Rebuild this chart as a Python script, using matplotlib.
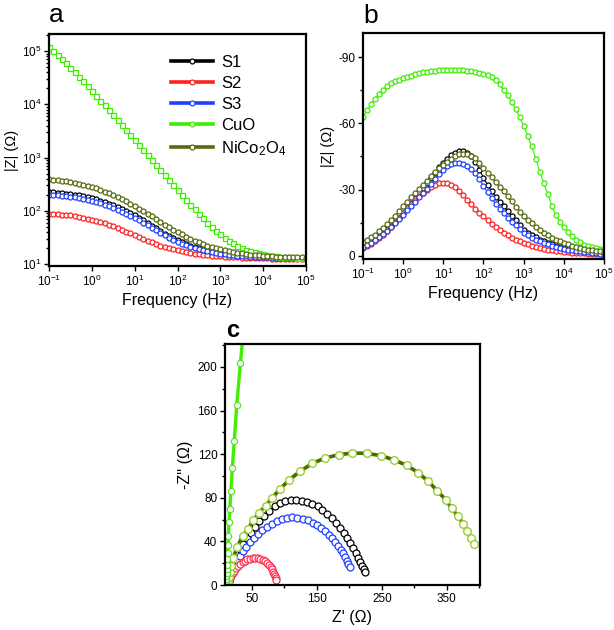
import numpy as np
import matplotlib
matplotlib.use('Agg')
import matplotlib.pyplot as plt
from matplotlib.lines import Line2D
from matplotlib.ticker import MultipleLocator, LogLocator, NullLocator

plt.rcParams['font.family'] = ['Liberation Sans', 'DejaVu Sans']
plt.rcParams['mathtext.fontset'] = 'custom'
plt.rcParams['mathtext.rm'] = 'Liberation Sans'
plt.rcParams['mathtext.it'] = 'Liberation Sans:italic'
plt.rcParams['mathtext.bf'] = 'Liberation Sans:bold'
plt.rcParams['axes.unicode_minus'] = False

# measurement grid, 10 points per decade
freq = np.logspace(-1, 5, 61)

labels = ['S1', 'S2', 'S3', 'CuO', 'NiCo$_2$O$_4$']
colors = ['#000000', '#ff2020', '#2040ff', '#3dee00', '#556b10']

# |Z| (ohm) vs frequency
zmod_s1 = [225.0, 222.5, 219.4, 215.8, 211.5, 206.6, 201.1, 195.0, 188.2, 180.9,
           172.9, 164.5, 155.7, 146.6, 137.2, 127.6, 118.1, 108.6, 99.4, 90.4,
           81.8, 73.6, 66.0, 59.0, 52.6, 46.9, 41.8, 37.4, 33.6, 30.4,
           27.8, 25.6, 23.7, 22.2, 20.8, 19.7, 18.7, 17.8, 17.1, 16.5,
           15.9, 15.5, 15.2, 14.8, 14.6, 14.3, 14.1, 13.9, 13.7, 13.6,
           13.5, 13.4, 13.3, 13.2, 13.1, 13.0, 13.0, 12.9, 12.9, 12.8, 12.8]
zmod_s2 = [88.1, 87.2, 86.1, 84.9, 83.4, 81.7, 79.6, 77.2, 74.6, 71.7,
           68.6, 65.2, 61.7, 58.2, 54.6, 51.0, 47.5, 44.1, 40.8, 37.7,
           34.8, 32.1, 29.6, 27.4, 25.5, 23.8, 22.3, 21.0, 19.9, 18.9,
           18.1, 17.4, 16.7, 16.2, 15.7, 15.3, 14.9, 14.6, 14.3, 14.1,
           13.9, 13.7, 13.6, 13.4, 13.3, 13.2, 13.1, 13.0, 12.9, 12.9,
           12.8, 12.8, 12.7, 12.7, 12.7, 12.6, 12.6, 12.6, 12.5, 12.5, 12.5]
zmod_s3 = [200.1, 197.9, 195.1, 191.9, 188.1, 183.7, 178.7, 173.2, 167.0, 160.3,
           153.2, 145.6, 137.7, 129.6, 121.3, 113.0, 104.7, 96.5, 88.5, 80.6,
           73.1, 65.9, 59.2, 53.2, 47.7, 42.8, 38.4, 34.6, 31.4, 28.6,
           26.2, 24.3, 22.6, 21.2, 20.0, 19.0, 18.1, 17.3, 16.7, 16.2,
           15.7, 15.3, 15.0, 14.7, 14.4, 14.2, 14.0, 13.8, 13.6, 13.5,
           13.4, 13.3, 13.2, 13.1, 13.1, 13.0, 12.9, 12.9, 12.9, 12.8, 12.8]
zmod_cuo = [1.203e5, 1.019e5, 85660, 71550, 59390, 49050, 40320, 33020, 26970, 21970,
            17870, 14510, 11760, 9520, 7694, 6216, 5016, 4043, 3256, 2623,
            2113, 1701, 1369, 1103, 887.8, 714.9, 575.9, 464.2, 374.2, 302.1,
            244.0, 197.4, 160.1, 130.2, 106.3, 87.3, 72.1, 60.0, 50.4, 42.6,
            36.4, 31.5, 27.5, 24.4, 22.0, 20.0, 18.5, 17.4, 16.5, 15.8,
            15.2, 14.7, 14.4, 14.1, 13.8, 13.6, 13.5, 13.3, 13.2, 13.1, 13.0]
zmod_nico = [390.1, 383.7, 376.2, 367.7, 358.1, 347.5, 335.8, 323.1, 309.4, 294.8,
             279.2, 263.0, 246.4, 229.8, 213.2, 196.9, 180.9, 165.4, 150.5, 136.3,
             122.9, 110.4, 98.9, 88.2, 78.5, 69.8, 62.1, 55.2, 49.3, 44.1,
             39.7, 36.0, 32.8, 30.0, 27.7, 25.6, 23.8, 22.3, 21.0, 19.9,
             19.0, 18.2, 17.5, 16.8, 16.3, 15.9, 15.5, 15.1, 14.8, 14.6,
             14.4, 14.2, 14.0, 13.8, 13.7, 13.6, 13.5, 13.4, 13.3, 13.3, 13.2]

# phase (deg) vs frequency
phase_s1 = [-4.2, -5.2, -6.3, -7.5, -8.8, -10.3, -11.9, -13.6, -15.4, -17.3,
            -19.3, -21.5, -23.8, -26.1, -28.4, -30.7, -33.0, -35.4, -37.7, -40.0,
            -42.0, -43.9, -45.5, -46.8, -47.5, -47.4, -46.6, -45.0, -42.6, -39.0,
            -35.4, -32.2, -29.2, -26.8, -24.5, -22.4, -20.3, -18.2, -16.2, -14.0,
            -11.8, -10.5, -9.3, -8.3, -7.3, -6.5, -5.8, -5.2, -4.6, -4.0,
            -3.5, -3.2, -2.9, -2.6, -2.3, -2.0, -1.8, -1.6, -1.4, -1.1, -0.9]
phase_s2 = [-3.5, -4.4, -5.4, -6.6, -8.0, -9.6, -11.3, -13.2, -15.2, -17.3,
            -19.4, -21.5, -23.5, -25.4, -27.1, -28.6, -30.0, -31.2, -32.2, -32.8,
            -33.1, -32.9, -32.2, -31.0, -29.3, -27.3, -25.3, -23.3, -21.4, -19.5,
            -17.8, -16.1, -14.5, -13.0, -11.6, -10.3, -9.2, -8.2, -7.3, -6.5,
            -5.7, -5.1, -4.5, -4.0, -3.5, -3.1, -2.7, -2.4, -2.1, -1.9,
            -1.7, -1.5, -1.4, -1.2, -1.1, -1.0, -0.9, -0.8, -0.7, -0.6, -0.5]
phase_s3 = [-3.9, -4.8, -5.9, -7.1, -8.4, -9.8, -11.4, -13.0, -14.8, -16.7,
            -18.6, -20.6, -22.6, -24.5, -26.5, -28.4, -30.4, -32.5, -34.7, -37.0,
            -39.0, -40.6, -41.6, -42.1, -42.2, -41.8, -40.8, -39.3, -37.3, -34.6,
            -31.6, -28.8, -26.1, -23.6, -21.4, -19.3, -17.3, -15.5, -13.7, -12.0,
            -10.4, -9.2, -8.2, -7.3, -6.5, -5.8, -5.2, -4.6, -4.1, -3.5,
            -3.0, -2.7, -2.4, -2.2, -1.9, -1.7, -1.5, -1.3, -1.1, -0.8, -0.6]
phase_cuo = [-63.0, -66.0, -68.7, -71.1, -73.3, -75.2, -76.8, -78.1, -79.1, -79.9,
             -80.5, -81.1, -81.7, -82.3, -82.7, -83.1, -83.4, -83.7, -83.9, -84.0,
             -84.0, -84.1, -84.1, -84.1, -84.0, -84.0, -83.8, -83.6, -83.3, -82.9,
             -82.5, -81.8, -80.9, -79.6, -77.8, -75.2, -72.8, -69.6, -66.6, -62.8,
             -58.8, -54.4, -49.6, -44.0, -38.0, -33.0, -28.0, -22.5, -18.5, -15.5,
             -13.0, -10.8, -8.9, -7.3, -6.0, -5.0, -4.3, -3.8, -3.4, -3.0, -2.7]
phase_nico = [-6.0, -7.1, -8.3, -9.6, -11.0, -12.5, -14.2, -16.0, -18.0, -20.1,
              -22.4, -24.4, -26.4, -28.3, -30.3, -32.2, -34.1, -36.0, -37.8, -39.6,
              -41.2, -42.7, -44.0, -45.1, -45.9, -46.2, -46.0, -45.3, -44.1, -42.1,
              -39.7, -37.6, -35.5, -33.4, -31.3, -29.2, -26.9, -24.6, -22.3, -20.0,
              -17.8, -16.2, -14.6, -13.1, -11.7, -10.3, -9.2, -8.2, -7.3, -6.5,
              -5.7, -5.1, -4.5, -4.0, -3.5, -3.0, -2.7, -2.4, -2.1, -1.9, -1.7]

# Nyquist: Z' and -Z'' (ohm)
nyq_s1_re = [12.8, 13.2, 14.0, 15.0, 16.5, 18.5, 21.0, 24.0, 27.5, 31.5,
             36.5, 42.0, 48.0, 54.5, 61.5, 69.0, 77.0, 85.0, 93.0, 101.0,
             109.5, 118.0, 126.5, 135.0, 143.0, 151.0, 158.5, 166.0, 173.0, 179.5,
             185.5, 191.0, 196.0, 201.0, 205.5, 209.5, 213.0, 216.5, 219.5, 222.0, 224.0]
nyq_s1_im = [0.3, 1.5, 3.5, 6.0, 9.5, 13.5, 18.0, 23.0, 28.0, 33.0,
             38.0, 43.0, 48.0, 53.5, 58.5, 63.5, 68.0, 72.0, 75.2, 77.0,
             77.8, 78.0, 77.3, 76.0, 74.3, 72.0, 69.0, 65.5, 61.5, 57.0,
             52.5, 47.5, 43.0, 38.5, 34.0, 29.5, 25.0, 21.0, 17.5, 14.5, 12.0]
nyq_s2_re = [12.5, 13.0, 13.8, 15.0, 16.5, 18.3, 20.5, 23.0, 25.8, 28.8,
             32.0, 35.5, 39.2, 43.0, 47.0, 51.0, 55.0, 59.0, 63.0, 66.8,
             70.3, 73.5, 76.4, 78.9, 81.0, 82.8, 84.4, 85.7, 86.7, 87.5]
nyq_s2_im = [0.2, 1.2, 2.7, 4.5, 6.5, 8.7, 11.0, 13.3, 15.5, 17.5,
             19.4, 21.0, 22.4, 23.5, 24.3, 24.8, 25.0, 24.8, 24.2, 23.2,
             21.9, 20.3, 18.5, 16.5, 14.4, 12.3, 10.2, 8.2, 6.4, 4.8]
nyq_s3_re = [12.8, 13.3, 14.1, 15.2, 16.7, 18.6, 21.0, 24.0, 27.5, 31.5,
             36.0, 41.0, 46.5, 52.5, 59.0, 66.0, 73.0, 80.5, 88.0, 96.0,
             104.0, 112.0, 120.0, 128.0, 136.0, 143.5, 150.5, 157.0, 163.0, 168.5,
             173.5, 178.0, 182.5, 186.5, 190.0, 193.3, 196.2, 198.5, 200.5]
nyq_s3_im = [0.3, 1.5, 3.3, 5.5, 8.3, 11.5, 15.0, 19.0, 23.0, 27.0,
             31.0, 35.0, 39.0, 43.0, 47.0, 50.5, 53.5, 56.3, 58.5, 60.3,
             61.5, 62.0, 61.7, 60.8, 59.2, 57.2, 54.8, 52.2, 49.3, 46.2,
             42.9, 39.5, 36.0, 32.5, 29.0, 25.5, 22.2, 19.3, 16.6]
nyq_cuo_re = [10.0, 10.1, 10.2, 10.3, 10.5, 10.7, 11.0, 11.3, 11.6, 12.0,
              12.5, 13.1, 13.8, 14.8, 15.9, 17.6, 19.8, 22.9, 26.6, 32.4, 39.7]
nyq_cuo_im = [0.3, 1.0, 2.0, 3.5, 5.5, 8.0, 11.0, 14.5, 18.5, 23.5,
              29.0, 36.3, 44.9, 57.8, 69.4, 86.3, 106.9, 132.4, 164.9, 204.0, 253.0]
nyq_nico_re = [13.2, 13.4, 13.9, 14.8, 16.3, 18.5, 21.3, 27.5, 35.7, 43.4,
               52.1, 60.8, 71.1, 80.8, 93.1, 107.5, 123.9, 142.9, 162.3, 183.9,
               204.4, 226.4, 248.5, 268.5, 288.0, 306.0, 321.5, 335.0, 348.0, 357.3,
               367.4, 375.0, 381.3, 386.5, 392.0]
nyq_nico_im = [0.8, 2.0, 4.0, 7.0, 11.5, 17.5, 24.9, 35.0, 44.9, 51.0,
               59.3, 66.4, 72.5, 79.6, 87.9, 96.5, 104.1, 111.5, 116.4, 119.5,
               121.0, 120.7, 118.6, 114.8, 109.8, 103.0, 95.0, 86.6, 78.3, 70.3,
               63.0, 56.2, 49.1, 43.0, 37.5]

zmods = [zmod_s1, zmod_s2, zmod_s3, zmod_cuo, zmod_nico]
phases = [phase_s1, phase_s2, phase_s3, phase_cuo, phase_nico]

fig = plt.figure(figsize=(6.14, 6.30), dpi=100)
ax_a = fig.add_axes([0.0798, 0.5778, 0.4186, 0.3683])
ax_b = fig.add_axes([0.5912, 0.5889, 0.3925, 0.3587])
ax_c = fig.add_axes([0.3664, 0.0714, 0.4153, 0.3826])


def style(ax):
    for sp in ax.spines.values():
        sp.set_linewidth(1.6)
    ax.tick_params(which='both', direction='out', width=1.0, labelsize=8.5, pad=2)
    ax.tick_params(which='major', length=3.5)
    ax.tick_params(which='minor', length=2)


# panel a
for i in range(5):
    mk = 's' if labels[i] == 'CuO' else 'o'
    ax_a.plot(freq, zmods[i], color=colors[i], lw=0.8, marker=mk, ms=3.6,
              mfc='white', mec=colors[i], mew=0.9)
ax_a.set_xscale('log')
ax_a.set_yscale('log')
ax_a.set_xlim(0.1, 1e5)
ax_a.set_ylim(9.2, 2.1e5)
ax_a.xaxis.set_major_locator(LogLocator(base=10, numticks=10))
ax_a.xaxis.set_minor_locator(NullLocator())
ax_a.set_xlabel('Frequency (Hz)', fontsize=11.5, labelpad=3)
ax_a.set_ylabel('|Z| (\u03a9)', fontsize=10.5, labelpad=2)
style(ax_a)

handles = [Line2D([], [], color=c, lw=2.6, marker='o', ms=3.5, mfc='white', mec=c, mew=0.9)
           for c in colors]
ax_a.legend(handles, labels, loc='upper left', bbox_to_anchor=(0.475, 0.91),
            frameon=False, fontsize=12, handlelength=2.5, handletextpad=0.5,
            labelspacing=0.36, borderpad=0, borderaxespad=0)

# panel b
for i in range(5):
    ax_b.plot(freq, phases[i], color=colors[i], lw=0.8, marker='o', ms=3.6,
              mfc='white', mec=colors[i], mew=0.9)
ax_b.set_xscale('log')
ax_b.set_xlim(0.1, 1e5)
ax_b.set_ylim(1.5, -101)
ax_b.set_yticks([-90, -60, -30, 0])
ax_b.yaxis.set_minor_locator(MultipleLocator(15))
ax_b.xaxis.set_major_locator(LogLocator(base=10, numticks=10))
ax_b.xaxis.set_minor_locator(NullLocator())
ax_b.set_xlabel('Frequency (Hz)', fontsize=11.5, labelpad=3)
ax_b.set_ylabel('|Z| (\u03a9)', fontsize=10.5, labelpad=2)
style(ax_b)

# panel c
ax_c.plot(nyq_s1_re, nyq_s1_im, color='#000000', lw=1.0, marker='o', ms=5,
          mfc='white', mec='#000000', mew=0.9)
ax_c.plot(nyq_s3_re, nyq_s3_im, color='#2040ff', lw=0.8, marker='o', ms=5,
          mfc='white', mec='#2040ff', mew=0.9)
ax_c.plot(nyq_s2_re, nyq_s2_im, color='#ff2040', lw=0.6, marker='o', ms=5,
          mfc='white', mec='#ff3050', mew=0.9)
ax_c.plot(nyq_nico_re, nyq_nico_im, color='#4a6a00', lw=2.6, marker='o', ms=5.5,
          mfc='white', mec='#9acd32', mew=1.0)
ax_c.plot(nyq_cuo_re, nyq_cuo_im, color='#44ee00', lw=2.4, marker='o', ms=4.5,
          mfc='white', mec='#66dd33', mew=0.9)
ax_c.set_xlim(8.5, 401)
ax_c.set_ylim(0, 221)
ax_c.set_xticks([50, 150, 250, 350])
ax_c.xaxis.set_minor_locator(MultipleLocator(50))
ax_c.set_yticks([0, 40, 80, 120, 160, 200])
ax_c.yaxis.set_minor_locator(MultipleLocator(20))
ax_c.set_xlabel("Z' (\u03a9)", fontsize=11.5, labelpad=4)
ax_c.set_ylabel("-Z'' (\u03a9)", fontsize=11.5, labelpad=3)
style(ax_c)

fig.text(0.080, 0.965, 'a', fontsize=19, ha='left', va='baseline')
fig.text(0.591, 0.9635, 'b', fontsize=19, ha='left', va='baseline')
fig.text(0.368, 0.465, 'c', fontsize=17, fontweight='bold', ha='left', va='baseline')

fig.savefig('out.png', dpi=100)
